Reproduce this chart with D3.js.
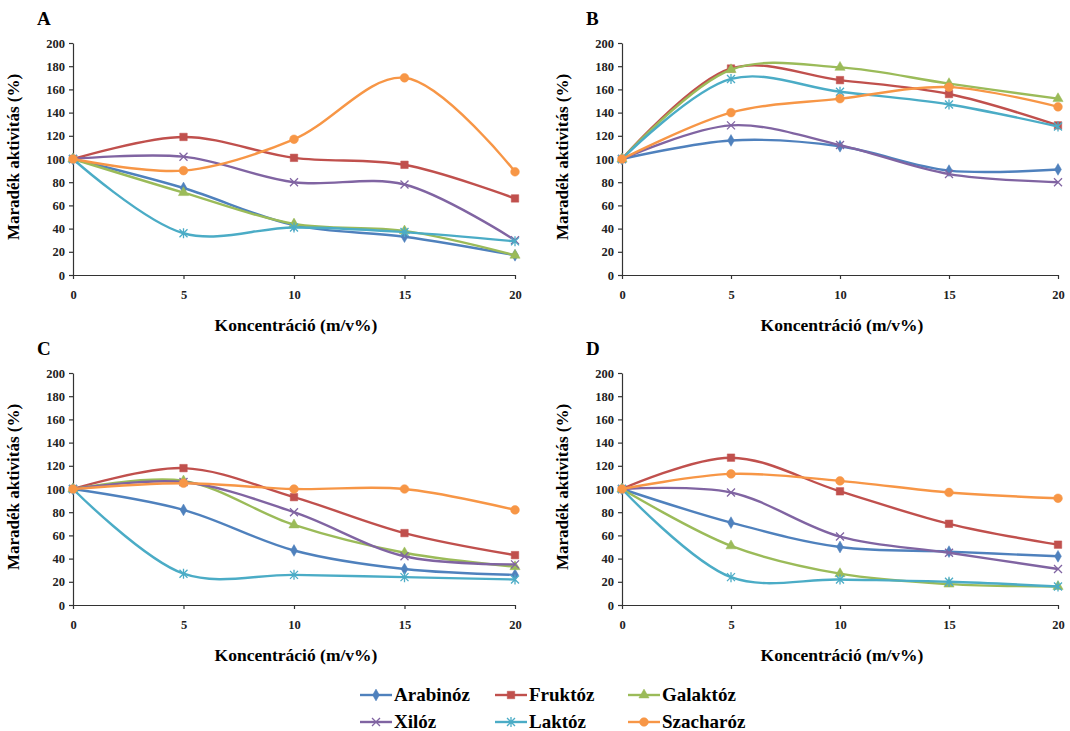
<!DOCTYPE html>
<html>
<head>
<meta charset="utf-8">
<script src="https://cdn.jsdelivr.net/npm/d3@7"></script>
<style>
  body { margin: 0; background: #fff; }
  svg text { font-family: 'Liberation Serif', 'Times New Roman', Times, 'DejaVu Serif', serif; font-weight: bold; }
  .axis path, .axis line { stroke: #333; stroke-width: 1.2; }
  .axis text { font-size: 12.5px; fill: #222; }
</style>
</head>
<body>
<script>
var width = 1070;
var height = 731;

// concentration (m/v%) on the x axis
var concentrations = [0, 5, 10, 15, 20];
var yTicks = [0, 20, 40, 60, 80, 100, 120, 140, 160, 180, 200];
var seriesNames = ['Arabinóz', 'Fruktóz', 'Galaktóz', 'Xilóz', 'Laktóz', 'Szacharóz'];
var seriesColors = ['#4F81BD', '#C0504D', '#9BBB59', '#8064A2', '#4BACC6', '#F79646'];
var seriesMarkers = ['diamond', 'square', 'triangle', 'x', 'star', 'circle'];

// residual activity (%), one row per sugar in seriesNames order
var panelA = [
  [100, 75, 43, 33, 17],
  [100, 119, 101, 95, 66],
  [100, 71, 44, 38, 17],
  [100, 102, 80, 78, 30],
  [100, 36, 41, 37, 29],
  [100, 90, 117, 170, 89]
];
var panelB = [
  [100, 116, 111, 90, 91],
  [100, 178, 168, 156, 129],
  [100, 177, 179, 165, 152],
  [100, 129, 112, 87, 80],
  [100, 169, 158, 147, 128],
  [100, 140, 152, 162, 145]
];
var panelC = [
  [100, 82, 47, 31, 26],
  [100, 118, 93, 62, 43],
  [100, 107, 69, 45, 33],
  [100, 106, 80, 42, 35],
  [100, 27, 26, 24, 22],
  [100, 105, 100, 100, 82]
];
var panelD = [
  [100, 71, 50, 46, 42],
  [100, 127, 98, 70, 52],
  [100, 51, 27, 18, 16],
  [100, 97, 59, 45, 31],
  [100, 24, 22, 20, 16],
  [100, 113, 107, 97, 92]
];

var svg = d3.select('body').append('svg')
  .attr('width', width)
  .attr('height', height);

function markerPath(type) {
  switch (type) {
    case 'diamond': return d3.symbol().type(d3.symbolDiamond).size(40)();
    case 'square': return d3.symbol().type(d3.symbolSquare).size(56)();
    case 'triangle': return d3.symbol().type(d3.symbolTriangle).size(45)();
    case 'circle': return d3.symbol().type(d3.symbolCircle).size(60)();
    case 'x': return 'M-4,-4L4,4M-4,4L4,-4';
    case 'star': return 'M-4,-4L4,4M-4,4L4,-4M0,-5L0,5';
  }
}

function drawMarker(sel, type, color) {
  var stroked = (type === 'x' || type === 'star');
  sel.append('path')
    .attr('d', markerPath(type))
    .attr('fill', stroked ? 'none' : color)
    .attr('stroke', color)
    .attr('stroke-width', stroked ? 1.3 : 0.5);
}

function drawPanel(letter, data, left, right, top, bottom) {
  var x = d3.scaleLinear().domain([0, 20]).range([left, right]);
  var y = d3.scaleLinear().domain([0, 200]).range([bottom, top]);

  var g = svg.append('g');

  g.append('g')
    .attr('class', 'axis')
    .attr('transform', 'translate(0,' + bottom + ')')
    .call(d3.axisBottom(x).tickValues(concentrations).tickSize(4).tickSizeOuter(0).tickPadding(11));

  g.append('g')
    .attr('class', 'axis')
    .attr('transform', 'translate(' + left + ',0)')
    .call(d3.axisLeft(y).tickValues(yTicks).tickSize(4).tickSizeOuter(0).tickPadding(4));

  g.append('text')
    .attr('x', left - 36)
    .attr('y', top - 18)
    .attr('font-size', 19)
    .text(letter);

  g.append('text')
    .attr('transform', 'translate(' + (left - 54) + ',' + ((top + bottom) / 2 - 2) + ') rotate(-90)')
    .attr('text-anchor', 'middle')
    .attr('font-size', 17)
    .text('Maradék aktivitás (%)');

  g.append('text')
    .attr('x', (left + right) / 2 + 2)
    .attr('y', bottom + 56)
    .attr('text-anchor', 'middle')
    .attr('font-size', 17.5)
    .text('Koncentráció (m/v%)');

  var line = d3.line()
    .x(function (d, i) { return x(concentrations[i]); })
    .y(function (d) { return y(d); })
    .curve(d3.curveCatmullRom.alpha(0.5));

  data.forEach(function (vals, s) {
    g.append('path')
      .attr('d', line(vals))
      .attr('fill', 'none')
      .attr('stroke', seriesColors[s])
      .attr('stroke-width', 2.4);
    vals.forEach(function (v, i) {
      var m = g.append('g')
        .attr('transform', 'translate(' + x(concentrations[i]) + ',' + y(v) + ')');
      drawMarker(m, seriesMarkers[s], seriesColors[s]);
    });
  });
}

drawPanel('A', panelA, 73, 515, 43, 275);
drawPanel('B', panelB, 622, 1058, 43, 275);
drawPanel('C', panelC, 73, 515, 373, 605);
drawPanel('D', panelD, 622, 1058, 373, 605);

// legend
var legendX = [360, 495, 628];
var legendY = [695, 722];
seriesNames.forEach(function (name, i) {
  var lx = legendX[i % 3];
  var ly = legendY[Math.floor(i / 3)];
  var item = svg.append('g').attr('transform', 'translate(' + lx + ',' + ly + ')');
  item.append('line')
    .attr('x1', 0).attr('x2', 32)
    .attr('y1', 0).attr('y2', 0)
    .attr('stroke', seriesColors[i])
    .attr('stroke-width', 2.4);
  var m = item.append('g').attr('transform', 'translate(16,0)');
  drawMarker(m, seriesMarkers[i], seriesColors[i]);
  item.append('text')
    .attr('x', 34)
    .attr('y', 6)
    .attr('font-size', 19)
    .text(name);
});
</script>
</body>
</html>
